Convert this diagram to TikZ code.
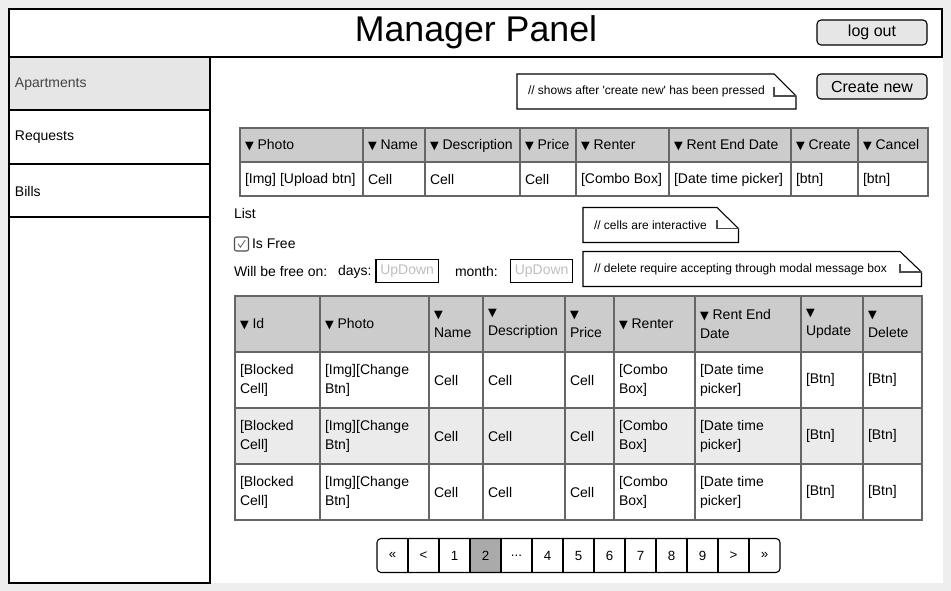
\documentclass[tikz,border=0pt]{standalone}
\usepackage{fontspec}
\setmainfont{Liberation Sans}
\newfontfamily\symfont{DejaVu Sans}
\definecolor{pagebg}{HTML}{EEEEEE}
\definecolor{hdgrey}{HTML}{CCCCCC}
\definecolor{rowgrey}{HTML}{EBEBEB}
\definecolor{btngrey}{HTML}{E6E6E6}
\definecolor{selgrey}{HTML}{AAAAAA}
\definecolor{gridline}{HTML}{666666}
\definecolor{hint}{HTML}{BFBFBF}
\definecolor{navtext}{HTML}{444444}
\newcommand{\sorttri}{{\symfont\fontsize{8.5}{8.5}\selectfont ▼}}
\newcommand{\pgdots}{...}

\begin{document}
\begin{tikzpicture}[x=0.75pt,y=-0.75pt,inner sep=0pt,outer sep=0pt,
frame/.style={draw=black,line width=0.9pt},
grid/.style={draw=gridline,line width=1.5pt},
txt/.style={anchor=west,align=left,font=\fontsize{10.5}{14.25}\selectfont},
notebox/.style={draw=black,line width=0.8pt,fill=white},
notefold/.style={draw=gray!60!black,line width=0.8pt},
notetxt/.style={anchor=west,font=\fontsize{9}{11}\selectfont},
btn/.style={draw=black,line width=0.8pt,fill=btngrey,rounded corners=3pt,minimum width=82.5pt,minimum height=18.75pt,font=\fontsize{12}{14}\selectfont},
updown/.style={draw=black,line width=0.8pt,anchor=west,inner xsep=3.2pt,minimum height=17.25pt,text=hint,font=\fontsize{10.5}{12}\selectfont},
pgcell/.style={anchor=north west,minimum width=23.25pt,minimum height=25.5pt,font=\fontsize{10}{12}\selectfont}]

% page
\useasboundingbox (0,0) rectangle (951,591);
\fill[pagebg] (0,0) rectangle (951,591);
\fill[white] (9,9) rectangle (943,583);

% header
\draw[frame] (9,9) rectangle (942,57);
\node[font=\fontsize{26.8}{30}\selectfont] (title) at (476,32) {Manager Panel};
\node[btn] (logout) at (872,32.5) {log out};

% side menu
\fill[btngrey] (9,57) rectangle (210,110);
\draw[frame] (9,57) rectangle (210,583) (9,110) -- (210,110) (9,164) -- (210,164) (9,217) -- (210,217);
\node[txt,text=navtext] (apts) at (15,84) {Apartments};
\node[txt] (reqs) at (15,137) {Requests};
\node[txt] (bills) at (15,191) {Bills};

% create row
\node[btn] (createnew) at (872,86.5) {Create new};
\draw[notebox] (517,74) -- (774,74) -- (796,96) -- (796,109) -- (517,109) -- cycle;
\draw[notefold] (774,87) -- (774,96) -- (796,96);
\node[notetxt] (note1) at (528,91.5) {// shows after \textquotesingle create new\textquotesingle\ has been pressed};

\fill[hdgrey] (240,128.5) rectangle (928,162.5);
\draw[grid] (240,128.5) rectangle (928,196) (240,162.5) -- (928,162.5)
  (363,128.5) -- (363,196) (425,128.5) -- (425,196) (520,128.5) -- (520,196) (576,128.5) -- (576,196)
  (669,128.5) -- (669,196) (791,128.5) -- (791,196) (858,128.5) -- (858,196);
\node[txt] (cPhoto) at (245,145.5) {\sorttri\ Photo};
\node[txt] (cName) at (368,145.5) {\sorttri\ Name};
\node[txt] (cDesc) at (430,145.5) {\sorttri\ Description};
\node[txt] (cPrice) at (525,145.5) {\sorttri\ Price};
\node[txt] (cRenter) at (581,145.5) {\sorttri\ Renter};
\node[txt] (cDate) at (674,145.5) {\sorttri\ Rent End Date};
\node[txt] (cCreate) at (796,145.5) {\sorttri\ Create};
\node[txt] (cCancel) at (863,145.5) {\sorttri\ Cancel};
\node[txt] (vPhoto) at (245,179.5) {[Img] [Upload btn]};
\node[txt] (vName) at (368,179.5) {Cell};
\node[txt] (vDesc) at (430,179.5) {Cell};
\node[txt] (vPrice) at (525,179.5) {Cell};
\node[txt] (vRenter) at (581,179.5) {[Combo Box]};
\node[txt] (vDate) at (674,179.5) {[Date time picker]};
\node[txt] (vCreate) at (796,179.5) {[btn]};
\node[txt] (vCancel) at (863,179.5) {[btn]};

% list filters
\node[txt] (list) at (234,214) {List};
\node[draw=gray!60!black,line width=0.8pt,rounded corners=1.5pt,minimum size=10.5pt] (chk) at (241.5,244) {};
\draw[gray!70!black,line width=0.6pt] ([xshift=-2.6pt,yshift=0.2pt]chk.center) -- ([xshift=-0.8pt,yshift=-2.4pt]chk.center) -- ([xshift=2.8pt,yshift=3pt]chk.center);
\node[txt] (isfree) at (252,244) {Is Free};
\node[txt] (freeon) at (234,272) {Will be free on:};
\node[txt] (days) at (338,272) {days:};
\node[updown] (updays) at (376,271) {UpDown};
\node[txt] (month) at (455,272) {month:};
\node[updown] (upmonth) at (510.5,271) {UpDown};

\draw[notebox] (583,207.5) -- (717,207.5) -- (738.5,228.5) -- (738.5,242.5) -- (583,242.5) -- cycle;
\draw[notefold] (717,220) -- (717,228.5) -- (738.5,228.5);
\node[notetxt] (note2) at (594,225) {// cells are interactive};
\draw[notebox] (583,251.5) -- (900,251.5) -- (921.5,272) -- (921.5,286.5) -- (583,286.5) -- cycle;
\draw[notefold] (900,264) -- (900,272) -- (921.5,272);
\node[notetxt] (note3) at (594,269) {// delete require accepting through modal message box};

% list table
\fill[hdgrey] (234.5,296) rectangle (922,352);
\fill[rowgrey] (234.5,408) rectangle (922,464);
\draw[grid] (234.5,296) rectangle (922,520.5) (234.5,352) -- (922,352) (234.5,408) -- (922,408) (234.5,464) -- (922,464)
  (319.5,296) -- (319.5,520.5) (429,296) -- (429,520.5) (483,296) -- (483,520.5) (565,296) -- (565,520.5)
  (614,296) -- (614,520.5) (695,296) -- (695,520.5) (801,296) -- (801,520.5) (863,296) -- (863,520.5);
\node[txt] (hId) at (240,324) {\sorttri\ Id};
\node[txt] (hPhoto) at (325,324) {\sorttri\ Photo};
\node[txt] (hName) at (434,324) {\sorttri\\Name};
\node[txt] (hDesc) at (488,324) {\sorttri\\Description};
\node[txt] (hPrice) at (570,324) {\sorttri\\Price};
\node[txt] (hRenter) at (619,324) {\sorttri\ Renter};
\node[txt] (hDate) at (700,324) {\sorttri\ Rent End\\Date};
\node[txt] (hUpdate) at (806,324) {\sorttri\\Update};
\node[txt] (hDelete) at (868,324) {\sorttri\\Delete};
\foreach \y/\n in {380/1,436/2,492/3}{
  \node[txt] (id\n) at (240,\y) {[Blocked\\Cell]};
  \node[txt] (img\n) at (325,\y) {[Img][Change\\Btn]};
  \node[txt] (name\n) at (434,\y) {Cell};
  \node[txt] (desc\n) at (488,\y) {Cell};
  \node[txt] (price\n) at (570,\y) {Cell};
  \node[txt] (renter\n) at (619,\y) {[Combo\\Box]};
  \node[txt] (date\n) at (700,\y) {[Date time\\picker]};
  \node[txt] (upd\n) at (806,\y) {[Btn]};
  \node[txt] (del\n) at (868,\y) {[Btn]};
}

% pager
\fill[selgrey] (470,538.5) rectangle (501,572.5);
\foreach \t [count=\i] in {«,<,1,2,\pgdots,4,5,6,7,8,9,>,»}
  \node[pgcell] (pg\i) at ({377+31*(\i-1)},538.5) {\t};
\draw[line width=0.8pt,rounded corners=3pt] (pg1.north west) rectangle (pg13.south east);
\foreach \i in {1,...,12}
  \draw[line width=0.8pt] (pg\i.north east) -- (pg\i.south east);
\end{tikzpicture}
\end{document}
